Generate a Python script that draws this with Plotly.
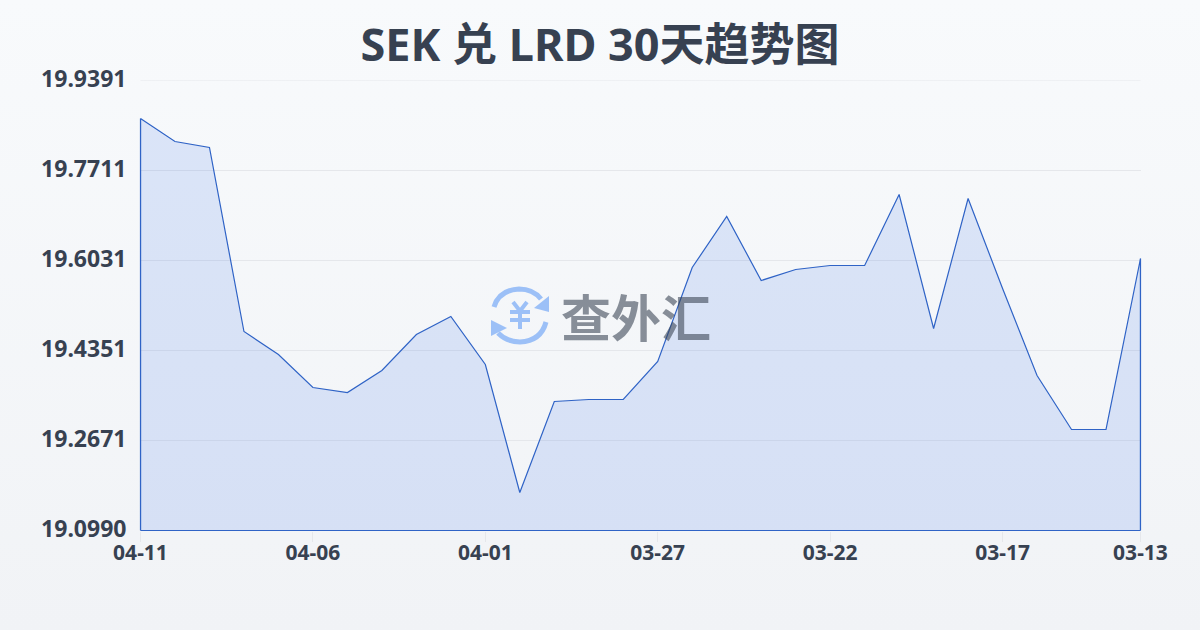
import plotly.graph_objects as go

title = "SEK 兑 LRD 30天趋势图"
dates = ["04-11","04-10","04-09","04-08","04-07","04-06","04-05","04-04","04-03","04-02",
         "04-01","03-31","03-30","03-29","03-28","03-27","03-26","03-25","03-24","03-23",
         "03-22","03-21","03-20","03-19","03-18","03-17","03-16","03-15","03-14","03-13"]
rates = [19.8682,19.8252,19.8140,19.4705,19.4276,19.3660,19.3566,19.3977,19.4649,19.4985,
         19.4089,19.1699,19.3398,19.3436,19.3436,19.4145,19.5900,19.6852,19.5657,19.5863,
         19.5937,19.5937,19.7263,19.4761,19.7188,19.5508,19.3884,19.2876,19.2876,19.6068]
y_ticks = [19.0990,19.2671,19.4351,19.6031,19.7711,19.9391]
y_labels = ["19.0990","19.2671","19.4351","19.6031","19.7711","19.9391"]
x_ticks = ["04-11","04-06","04-01","03-27","03-22","03-17","03-13"]
y_min, y_max = 19.0990, 19.9391

# margin box is one pixel larger than the plot so the plot can sit on half-pixels
L, R, T, B = 140, 1141, 80, 531
FONT = "'Noto Sans','Noto Sans CJK SC',sans-serif"
INK = "#374151"
LINE = "#2f63c6"

def px(x): return (x - L) / (R - L)
def py(y): return (B - y) / (B - T)
def P(*pts):
    return " ".join(f"{c}{px(x):.5f},{py(y):.5f}" for c, x, y in pts)

fig = go.Figure(go.Scatter(
    x=dates + [dates[-1], dates[0], dates[0]],
    y=rates + [y_min, y_min, rates[0]],
    mode="lines", fill="toself", fillcolor="rgba(37,99,235,0.135)", cliponaxis=False,
    line=dict(color=LINE, width=1.2), hoverinfo="skip", showlegend=False))

logo_blue = "#9cc0f7"
xl, xr = px(140.5), px(1140.5)
shapes = [
    dict(type="line", xref="paper", yref="y", x0=xl, x1=xr, y0=y_max, y1=y_max,
         line=dict(color="#e5e7eb", width=1), layer="below"),
    # closing edges of the area outline, which the plot clip would otherwise cut in half
    dict(type="line", xref="paper", yref="y", x0=xl, x1=xl, y0=y_min, y1=rates[0],
         line=dict(color=LINE, width=1.2), layer="above"),
    dict(type="line", xref="paper", yref="y", x0=xr, x1=xr, y0=y_min, y1=rates[-1],
         line=dict(color=LINE, width=1.2), layer="above"),
    dict(type="line", xref="paper", yref="paper", x0=xl, x1=xr, y0=py(530.5), y1=py(530.5),
         line=dict(color=LINE, width=1.2), layer="above"),
]
def stroke(path, w):
    shapes.append(dict(type="path", xref="paper", yref="paper", path=path,
                       line=dict(color=logo_blue, width=w), layer="below"))
def solid(path):
    shapes.append(dict(type="path", xref="paper", yref="paper", path=path,
                       fillcolor=logo_blue, line=dict(width=0), layer="below"))
stroke(f"M{px(494):.5f},{py(307):.5f} Q{px(499):.5f},{py(290):.5f} {px(519):.5f},{py(289):.5f} "
       f"Q{px(533):.5f},{py(289):.5f} {px(541):.5f},{py(299):.5f}", 5)
stroke(f"M{px(546):.5f},{py(322):.5f} Q{px(541):.5f},{py(341):.5f} {px(520):.5f},{py(342):.5f} "
       f"Q{px(507):.5f},{py(342):.5f} {px(498):.5f},{py(333):.5f}", 5)
solid(P(("M",549,296),("L",549,312),("L",534,308)) + " Z")
solid(P(("M",491,320),("L",507,328),("L",491,336)) + " Z")
stroke(P(("M",513,302),("L",520,311),("L",527,302)), 4)
stroke(P(("M",510,312),("L",530,312)), 4)
stroke(P(("M",510,320),("L",530,320)), 4)
stroke(P(("M",520,311),("L",520,329)), 4)

fig.update_layout(
    width=1200, height=630, autosize=False,
    margin=dict(l=L, r=1200 - R, t=T, b=630 - B),
    paper_bgcolor="rgba(0,0,0,0)", plot_bgcolor="rgba(0,0,0,0)",
    font=dict(family=FONT, color=INK),
    title=dict(text=f"<b>{title}</b>", x=0.5, xanchor="center", y=0.928, yanchor="middle",
               font=dict(size=45, family=FONT, color=INK)),
    shapes=shapes,
    annotations=[dict(text="<b>查外汇</b>", xref="paper", yref="paper",
                      x=px(636), y=py(315), xanchor="center", yanchor="middle",
                      showarrow=False, font=dict(size=50, color="rgba(55,65,81,0.58)",
                                                 family="'Noto Sans CJK SC',sans-serif"))],
    xaxis=dict(type="category", categoryorder="array", categoryarray=dates,
               domain=[xl, xr],
               range=[0, len(dates) - 1], tickmode="array", tickvals=x_ticks, ticktext=x_ticks,
               showgrid=False, zeroline=False, showline=False,
               ticks="outside", ticklen=10, tickwidth=1, tickcolor="#e5e7eb",
               ticklabelstandoff=-7,
               tickfont=dict(size=21, family=FONT, color=INK, weight=700)),
    yaxis=dict(range=[y_min, y_max], tickmode="array", tickvals=y_ticks, ticktext=y_labels,
               domain=[py(530.5), py(80.5)],
               showgrid=True, gridcolor="#e5e7eb", gridwidth=1, zeroline=False, showline=False,
               ticks="", ticklabelstandoff=13, ticklabelshift=-2,
               tickfont=dict(size=23, family=FONT, color=INK, weight=700)),
)

fig.write_html("out.html", config=dict(displayModeBar=False), post_script=(
    "document.documentElement.style.margin='0';document.body.style.margin='0';"
    "document.body.style.background='linear-gradient(180deg,#f8fafc 0%,#f1f3f6 100%)';"
    "document.body.style.height='630px';document.body.style.overflow='hidden';"))
